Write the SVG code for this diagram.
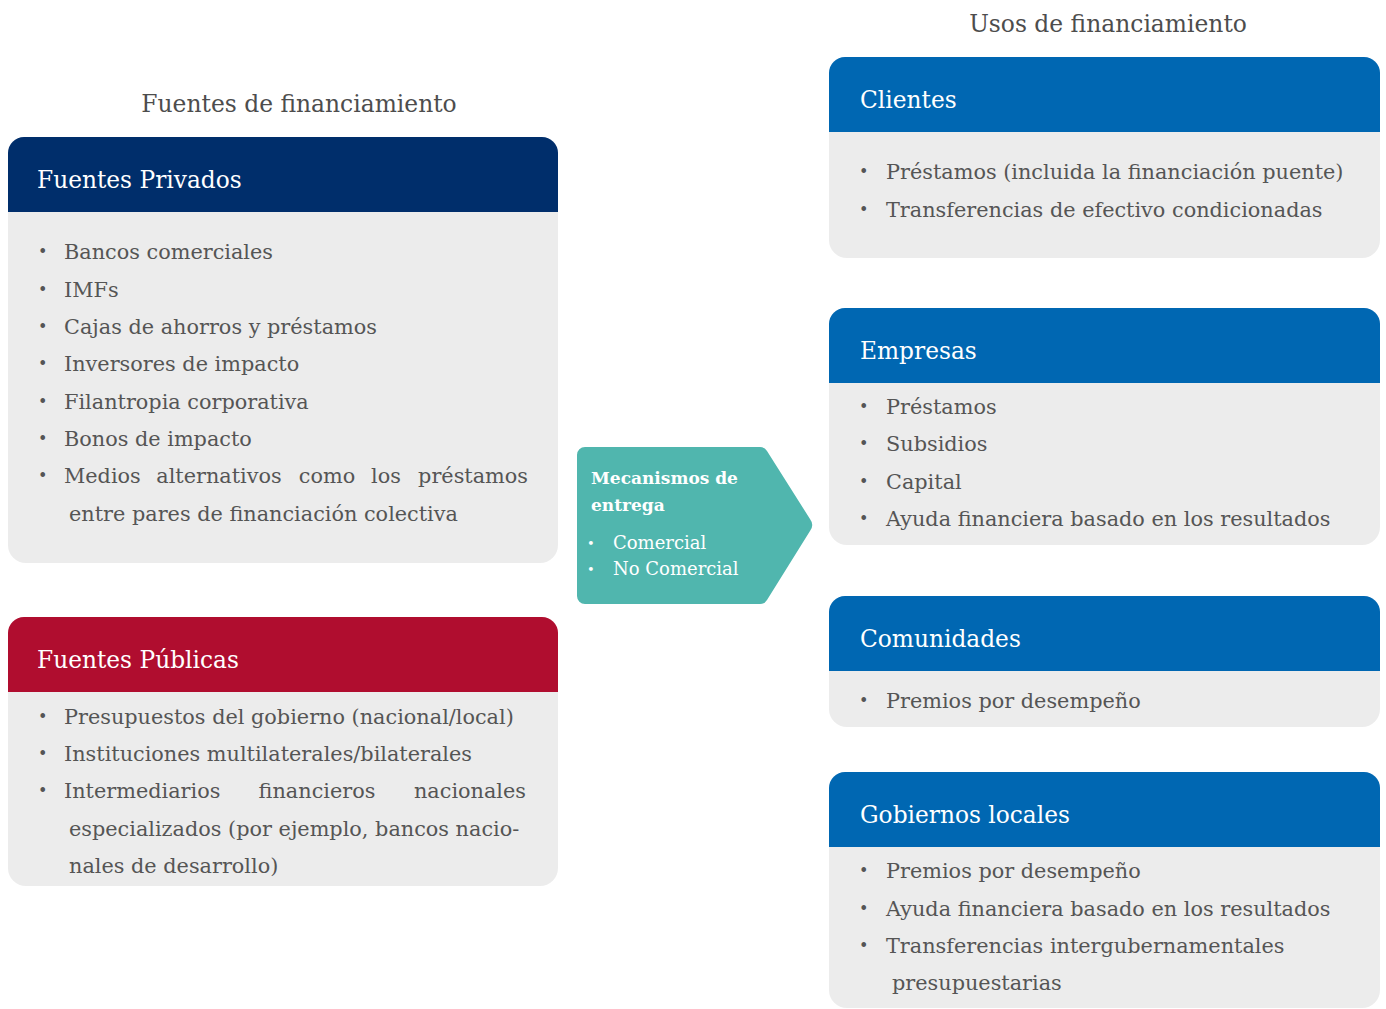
<svg xmlns="http://www.w3.org/2000/svg" width="1386" height="1009" viewBox="0 0 1386 1009">
<style>
text{font-family:"DejaVu Serif","Liberation Serif",serif}
.sec{font-size:23.4px;fill:#4d4d4d;text-anchor:middle}
.hd{font-size:23.3px;fill:#fff}
.it{font-size:20.8px;fill:#555}
.bl{font-size:16px;fill:#555}
.body{fill:#ececec}
.mt{font-size:17px;fill:#fff;font-weight:bold}
.mi{font-size:18px;fill:#fff}
.m{text-anchor:middle}
.e{text-anchor:end}
</style>
<rect width="1386" height="1009" fill="#fff"/>
<text class="sec" x="299" y="112">Fuentes de financiamiento</text>
<text class="sec" x="1108" y="32">Usos de financiamiento</text>

<g id="fuentes-privados">
<rect class="body" x="8" y="137" width="550" height="426" rx="18"/>
<path d="M8,212 V153 a16,16 0 0 1 16,-16 H542 a16,16 0 0 1 16,16 V212 Z" fill="#002e6b"/>
<text class="hd" x="37" y="188">Fuentes Privados</text>
<text class="bl" x="38" y="257">•</text><text class="it" x="64" y="259">Bancos comerciales</text>
<text class="bl" x="38" y="295">•</text><text class="it" x="64" y="297">IMFs</text>
<text class="bl" x="38" y="332">•</text><text class="it" x="64" y="334">Cajas de ahorros y préstamos</text>
<text class="bl" x="38" y="369">•</text><text class="it" x="64" y="371">Inversores de impacto</text>
<text class="bl" x="38" y="407">•</text><text class="it" x="64" y="409">Filantropia corporativa</text>
<text class="bl" x="38" y="444">•</text><text class="it" x="64" y="446">Bonos de impacto</text>
<text class="bl" x="38" y="481">•</text>
<text class="it" x="64" y="483">Medios</text>
<text class="it m" x="219" y="483">alternativos</text>
<text class="it m" x="327" y="483">como</text>
<text class="it m" x="386" y="483">los</text>
<text class="it e" x="528" y="483">préstamos</text>
<text class="it" x="69" y="521">entre pares de financiación colectiva</text>
</g>

<g id="fuentes-publicas">
<rect class="body" x="8" y="617" width="550" height="269" rx="18"/>
<path d="M8,692 V633 a16,16 0 0 1 16,-16 H542 a16,16 0 0 1 16,16 V692 Z" fill="#b00d2f"/>
<text class="hd" x="37" y="668">Fuentes Públicas</text>
<text class="bl" x="38" y="722">•</text><text class="it" x="64" y="724">Presupuestos del gobierno (nacional/local)</text>
<text class="bl" x="38" y="759">•</text><text class="it" x="64" y="761">Instituciones multilaterales/bilaterales</text>
<text class="bl" x="38" y="796">•</text>
<text class="it" x="64" y="798">Intermediarios</text>
<text class="it m" x="317" y="798">financieros</text>
<text class="it e" x="526" y="798">nacionales</text>
<text class="it" x="69" y="836">especializados (por ejemplo, bancos nacio-</text>
<text class="it" x="69" y="873">nales de desarrollo)</text>
</g>

<g id="mecanismos">
<path d="M585,447 H760 a8,8 0 0 1 7,4 L810,519 a10,10 0 0 1 0,12 L767,600 a8,8 0 0 1 -7,4 H585 a8,8 0 0 1 -8,-8 V455 a8,8 0 0 1 8,-8 Z" fill="#50b6ae"/>
<text class="mt" x="591" y="484">Mecanismos de</text>
<text class="mt" x="591" y="511">entrega</text>
<text class="mi" x="587" y="548" style="font-size:13px">•</text><text class="mi" x="613" y="549">Comercial</text>
<text class="mi" x="587" y="574" style="font-size:13px">•</text><text class="mi" x="613" y="575">No Comercial</text>
</g>

<g id="clientes">
<rect class="body" x="829" y="57" width="551" height="201" rx="18"/>
<path d="M829,132 V73 a16,16 0 0 1 16,-16 H1364 a16,16 0 0 1 16,16 V132 Z" fill="#0067b2"/>
<text class="hd" x="860" y="108">Clientes</text>
<text class="bl" x="859" y="177">•</text><text class="it" x="886" y="179">Préstamos (incluida la financiación puente)</text>
<text class="bl" x="859" y="215">•</text><text class="it" x="886" y="217">Transferencias de efectivo condicionadas</text>
</g>

<g id="empresas">
<rect class="body" x="829" y="308" width="551" height="237" rx="18"/>
<path d="M829,383 V324 a16,16 0 0 1 16,-16 H1364 a16,16 0 0 1 16,16 V383 Z" fill="#0067b2"/>
<text class="hd" x="860" y="359">Empresas</text>
<text class="bl" x="859" y="412">•</text><text class="it" x="886" y="414">Préstamos</text>
<text class="bl" x="859" y="449">•</text><text class="it" x="886" y="451">Subsidios</text>
<text class="bl" x="859" y="487">•</text><text class="it" x="886" y="489">Capital</text>
<text class="bl" x="859" y="524">•</text><text class="it" x="886" y="526">Ayuda financiera basado en los resultados</text>
</g>

<g id="comunidades">
<rect class="body" x="829" y="596" width="551" height="131" rx="18"/>
<path d="M829,671 V612 a16,16 0 0 1 16,-16 H1364 a16,16 0 0 1 16,16 V671 Z" fill="#0067b2"/>
<text class="hd" x="860" y="647">Comunidades</text>
<text class="bl" x="859" y="706">•</text><text class="it" x="886" y="708">Premios por desempeño</text>
</g>

<g id="gobiernos-locales">
<rect class="body" x="829" y="772" width="551" height="236" rx="18"/>
<path d="M829,847 V788 a16,16 0 0 1 16,-16 H1364 a16,16 0 0 1 16,16 V847 Z" fill="#0067b2"/>
<text class="hd" x="860" y="823">Gobiernos locales</text>
<text class="bl" x="859" y="876">•</text><text class="it" x="886" y="878">Premios por desempeño</text>
<text class="bl" x="859" y="914">•</text><text class="it" x="886" y="916">Ayuda financiera basado en los resultados</text>
<text class="bl" x="859" y="951">•</text><text class="it" x="886" y="953">Transferencias intergubernamentales</text>
<text class="it" x="892" y="990">presupuestarias</text>
</g>

<g id="connectors"></g>
</svg>
